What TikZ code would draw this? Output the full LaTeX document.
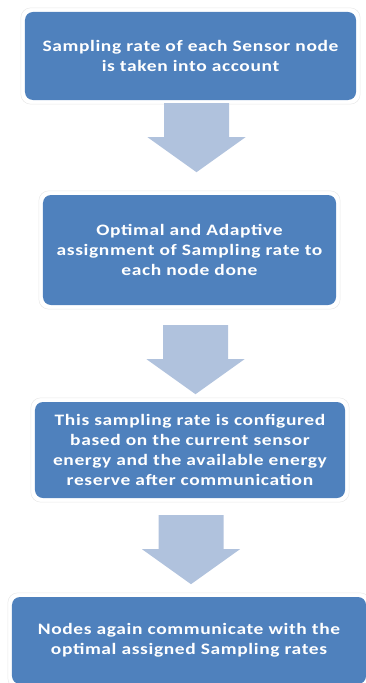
\documentclass[tikz,border=0pt]{standalone}
\usepackage{fontspec}
\setmainfont{Carlito}[FakeStretch=1.22, LetterSpace=4]

\definecolor{boxblue}{HTML}{4F81BD}
\definecolor{arrowblue}{HTML}{B0C2DD}

\begin{document}
\begin{tikzpicture}[
  x=1bp, y=-1bp,
  stagebox/.style={rectangle, rounded corners=8bp, fill=boxblue,
    text=white, font=\bfseries\fontsize{16}{20}\selectfont,
    align=center, inner sep=0pt},
  glow/.style={draw=black!9, line width=0.5bp, rounded corners=10bp},
  blockarrow/.pic={
    \fill[arrowblue] (-32.5,0) -- (32.5,0) -- (32.5,34) -- (49,34)
      -- (0,69) -- (-49,34) -- (-32.5,34) -- cycle;
  },
]
  \useasboundingbox (0,0) rectangle (365,683);

  % process steps
  \node[stagebox, minimum width=331bp, minimum height=88bp] (rate) at (190.5,56)
    {Sampling rate of each Sensor node\\is taken into account};
  \node[stagebox, minimum width=293bp, minimum height=110bp] (assign) at (189.5,250)
    {Optimal and Adaptive\\assignment of Sampling rate to\\each node done};
  \node[stagebox, minimum width=310bp, minimum height=96bp] (config) at (190,450)
    {This sampling rate is configured\\based on the current sensor\\energy and the available energy\\reserve after communication};
  \node[stagebox, minimum width=354bp, minimum height=87bp] (comm) at (189,640.5)
    {Nodes again communicate with the\\optimal assigned Sampling rates};

  % faint outline round the boxes
  \foreach \b in {rate,assign,config,comm}
    \draw[glow] ([shift={(-4bp,4bp)}]\b.north west) rectangle ([shift={(4bp,-4bp)}]\b.south east);

  % block arrows between the steps
  \coordinate (a1) at ([xshift=6bp,yshift=-3bp]rate.south);
  \coordinate (a2) at ([xshift=6bp,yshift=-20bp]assign.south);
  \coordinate (a3) at ([xshift=1bp,yshift=-17bp]config.south);
  \foreach \a in {a1,a2,a3}
    \pic at (\a) {blockarrow};
\end{tikzpicture}
\end{document}
